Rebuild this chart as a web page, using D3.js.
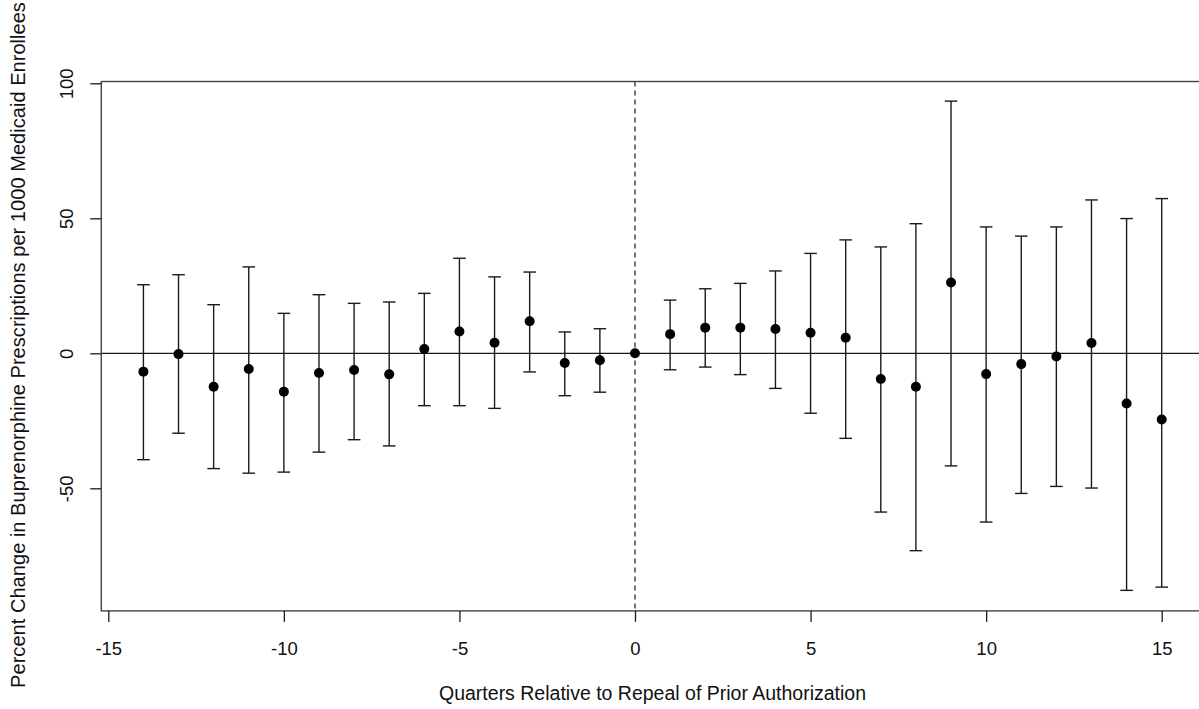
<!DOCTYPE html>
<html>
<head>
<meta charset="utf-8">
<script src="https://cdn.jsdelivr.net/npm/d3@7"></script>
<style>
  body { margin: 0; background: #fff; }
  svg { display: block; font-family: "Liberation Sans", Arial, sans-serif; }
</style>
</head>
<body>
<svg id="chart" width="1199" height="709"></svg>
<script>
// event-study estimates
var quarters = [-14, -13, -12, -11, -10, -9, -8, -7, -6, -5, -4, -3, -2, -1, 0,
                1, 2, 3, 4, 5, 6, 7, 8, 9, 10, 11, 12, 13, 14, 15];
var estimate = [-6.8, -0.3, -12.4, -5.8, -14.2, -7.3, -6.2, -7.8, 1.6, 8.1, 3.9, 11.9, -3.6, -2.6, 0,
                7.1, 9.5, 9.5, 9.0, 7.6, 5.8, -9.5, -12.4, 26.2, -7.7, -4.0, -1.2, 3.8, -18.6, -24.5];
var upper = [25.4, 29.1, 18.0, 32.0, 14.8, 21.7, 18.5, 19.0, 22.2, 35.2, 28.3, 30.1, 7.9, 9.1, null,
             19.7, 23.9, 25.9, 30.5, 37.0, 42.0, 39.4, 48.0, 93.4, 46.8, 43.4, 46.8, 56.8, 49.9, 57.3];
var lower = [-39.4, -29.6, -42.7, -44.4, -44.0, -36.6, -32.0, -34.3, -19.4, -19.4, -20.4, -6.9, -15.7, -14.4, null,
             -6.1, -5.1, -7.9, -13.0, -22.2, -31.5, -58.8, -73.1, -41.7, -62.5, -51.9, -49.3, -49.9, -87.8, -86.6];
var xTicks = [-15, -10, -5, 0, 5, 10, 15];
var yTicks = [-50, 0, 50, 100];

var xLabel = "Quarters Relative to Repeal of Prior Authorization";
var yLabel = "Percent Change in Buprenorphine Prescriptions per 1000 Medicaid Enrollees";

var data = quarters.map(function(q, i) {
    return {q: q, est: estimate[i], lo: lower[i], hi: upper[i]};
});

var svg = d3.select("#chart");

var x = d3.scaleLinear().domain([-15, 15]).range([108.3, 1161.7]),
    y = d3.scaleLinear().domain([-50, 100]).range([488.3, 83.3]);

var box = {left: x(-15.2), right: x(16.2), top: y(100.66), bottom: y(-95.4)};

var ink = "#1a1a1a";
var fmt = function(d) { return String(d); };  // plain hyphen minus, like R

// zero line and dashed line at repeal
svg.append("line")
    .attr("x1", box.left).attr("x2", box.right)
    .attr("y1", y(0)).attr("y2", y(0))
    .attr("stroke", ink).attr("stroke-width", 1.3);

svg.append("line")
    .attr("x1", x(0)).attr("x2", x(0))
    .attr("y1", box.top).attr("y2", box.bottom)
    .attr("stroke", ink).attr("stroke-width", 1.2)
    .attr("stroke-dasharray", "5,4");

// error bars
var bars = svg.append("g").selectAll("g")
    .data(data.filter(function(d) { return d.lo !== null; }))
    .enter().append("g")
    .attr("stroke", ink)
    .attr("stroke-width", 1.4);

bars.append("line")
    .attr("x1", function(d) { return x(d.q); })
    .attr("x2", function(d) { return x(d.q); })
    .attr("y1", function(d) { return y(d.hi); })
    .attr("y2", function(d) { return y(d.lo); });

bars.append("line")
    .attr("x1", function(d) { return x(d.q) - 6.3; })
    .attr("x2", function(d) { return x(d.q) + 6.3; })
    .attr("y1", function(d) { return y(d.hi); })
    .attr("y2", function(d) { return y(d.hi); });

bars.append("line")
    .attr("x1", function(d) { return x(d.q) - 6.3; })
    .attr("x2", function(d) { return x(d.q) + 6.3; })
    .attr("y1", function(d) { return y(d.lo); })
    .attr("y2", function(d) { return y(d.lo); });

// points
svg.append("g").selectAll("circle")
    .data(data)
    .enter().append("circle")
    .attr("cx", function(d) { return x(d.q); })
    .attr("cy", function(d) { return y(d.est); })
    .attr("r", 5)
    .attr("fill", "#000");

// frame
svg.append("rect")
    .attr("x", box.left).attr("y", box.top)
    .attr("width", box.right - box.left)
    .attr("height", box.bottom - box.top)
    .attr("fill", "none")
    .attr("stroke", "#444")
    .attr("stroke-width", 1.4);

// x axis
var xAxis = svg.append("g")
    .attr("transform", "translate(0," + box.bottom + ")")
    .call(d3.axisBottom(x).tickValues(xTicks).tickSize(11).tickPadding(20).tickFormat(fmt));
xAxis.select(".domain").remove();
xAxis.selectAll("line").attr("stroke", ink).attr("stroke-width", 1.3);
xAxis.selectAll("text").attr("fill", "#111").attr("font-size", 18.5).attr("font-family", "Liberation Sans, Arial, sans-serif");

// y axis, labels rotated like R default
var yAxis = svg.append("g")
    .attr("transform", "translate(" + box.left + ",0)")
    .call(d3.axisLeft(y).tickValues(yTicks).tickSize(11).tickFormat(fmt));
yAxis.select(".domain").remove();
yAxis.selectAll("line").attr("stroke", ink).attr("stroke-width", 1.3);
yAxis.selectAll("text")
    .attr("x", null).attr("dy", null)
    .attr("transform", "translate(-28.5,0) rotate(-90)")
    .attr("text-anchor", "middle")
    .attr("fill", "#111").attr("font-size", 18.5)
    .attr("font-family", "Liberation Sans, Arial, sans-serif");

// axis titles
svg.append("text")
    .attr("x", (box.left + box.right) / 2)
    .attr("y", 700)
    .attr("text-anchor", "middle")
    .attr("font-size", 19.5)
    .attr("fill", "#111")
    .text(xLabel);

svg.append("text")
    .attr("transform", "translate(25,345) rotate(-90)")
    .attr("text-anchor", "middle")
    .attr("font-size", 20.1)
    .attr("fill", "#111")
    .text(yLabel);
</script>
</body>
</html>
